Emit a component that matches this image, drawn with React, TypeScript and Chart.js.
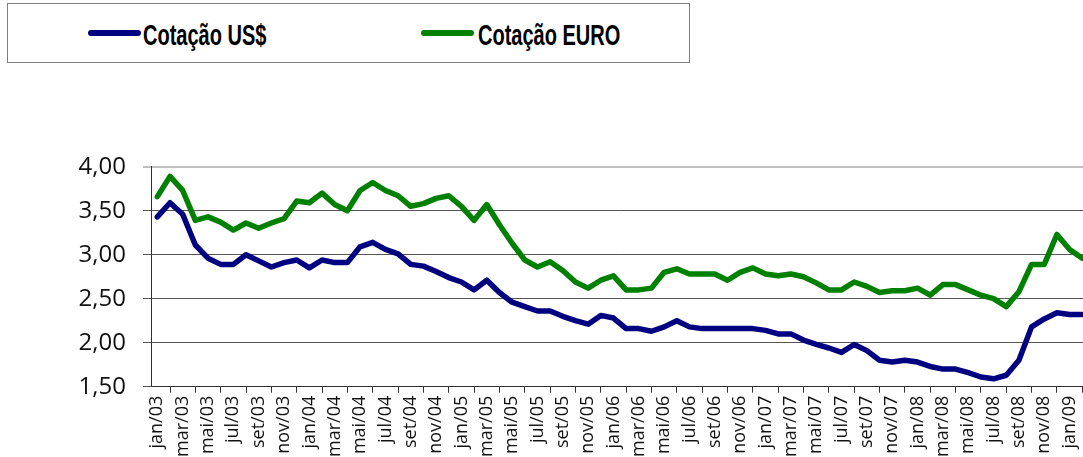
import React, { useEffect, useRef } from "react";
import { Chart, registerables } from "chart.js";

Chart.register(...registerables);

const months = ["jan", "fev", "mar", "abr", "mai", "jun", "jul", "ago", "set", "out", "nov", "dez"];
const years = ["03", "04", "05", "06", "07", "08", "09"];
const categories: string[] = [];
for (const y of years) for (const m of months) categories.push(`${m}/${y}`);
const labels = categories.slice(0, 74); // jan/03 .. fev/09

const usdValues = [
  3.43, 3.59, 3.46, 3.11, 2.96, 2.89, 2.89, 3.0, 2.93, 2.86, 2.91, 2.94,
  2.85, 2.94, 2.91, 2.91, 3.09, 3.14, 3.06, 3.01, 2.89, 2.87, 2.81, 2.74,
  2.69, 2.6, 2.71, 2.57, 2.46, 2.41, 2.36, 2.36, 2.3, 2.25, 2.21, 2.31,
  2.28, 2.16, 2.16, 2.13, 2.18, 2.25, 2.18, 2.16, 2.16, 2.16, 2.16, 2.16,
  2.14, 2.1, 2.1, 2.03, 1.98, 1.94, 1.89, 1.98, 1.91, 1.8, 1.78, 1.8,
  1.78, 1.73, 1.7, 1.7, 1.66, 1.61, 1.59, 1.63, 1.8, 2.18, 2.27, 2.34,
  2.32, 2.32,
];

const euroValues = [
  3.66, 3.89, 3.73, 3.39, 3.43, 3.37, 3.28, 3.36, 3.3, 3.36, 3.41, 3.61,
  3.59, 3.7, 3.57, 3.5, 3.73, 3.82, 3.73, 3.67, 3.55, 3.58, 3.64, 3.67,
  3.55, 3.39, 3.57, 3.34, 3.13, 2.94, 2.86, 2.92, 2.82, 2.69, 2.62, 2.71,
  2.76, 2.6, 2.6, 2.62, 2.8, 2.84, 2.78, 2.78, 2.78, 2.71, 2.8, 2.85,
  2.78, 2.76, 2.78, 2.75, 2.68, 2.6, 2.6, 2.69, 2.64, 2.57, 2.59, 2.59,
  2.62, 2.54, 2.66, 2.66, 2.6, 2.54, 2.5, 2.41, 2.58, 2.89, 2.89, 3.23,
  3.06, 2.96,
];

const seriesNames = ["Cotação US$", "Cotação EURO"];
const seriesColors = ["#000080", "#008000"];
const yTicks = [1.5, 2.0, 2.5, 3.0, 3.5, 4.0];

const CANVAS_W = 1100;
const CANVAS_H = 457;

export default function App() {
  const canvasRef = useRef<HTMLCanvasElement | null>(null);

  useEffect(() => {
    const canvas = canvasRef.current;
    if (!canvas) return;
    const chart = new Chart(canvas, {
      type: "line",
      data: {
        labels,
        datasets: [
          {
            label: seriesNames[0],
            data: usdValues,
            borderColor: seriesColors[0],
            backgroundColor: seriesColors[0],
            borderWidth: 5.5,
            pointRadius: 0,
            tension: 0,
            borderJoinStyle: "round",
            borderCapStyle: "round",
          },
          {
            label: seriesNames[1],
            data: euroValues,
            borderColor: seriesColors[1],
            backgroundColor: seriesColors[1],
            borderWidth: 5.5,
            pointRadius: 0,
            tension: 0,
            borderJoinStyle: "round",
            borderCapStyle: "round",
          },
        ],
      },
      options: {
        animation: false,
        responsive: false,
        devicePixelRatio: 1,
        layout: { padding: { top: 166.7, right: CANVAS_W - 1088.6, left: 0, bottom: 0 } },
        plugins: {
          legend: { display: false },
          tooltip: { enabled: false },
        },
        scales: {
          x: {
            type: "category",
            offset: true,
            grid: {
              offset: true,
              drawOnChartArea: false,
              drawTicks: true,
              tickLength: 6,
              color: "#333333",
            },
            border: { display: true, color: "#333333" },
            ticks: {
              autoSkip: false,
              minRotation: 90,
              maxRotation: 90,
              padding: 3,
              color: "#111111",
              font: { family: "'Open Sans'", size: 18 },
              callback: (_v: any, idx: number) => (idx % 2 === 0 ? labels[idx] : null),
            },
            afterFit: (scale: any) => {
              scale.height = CANVAS_H - 386.7;
            },
          },
          y: {
            min: yTicks[0],
            max: yTicks[yTicks.length - 1],
            afterBuildTicks: (scale: any) => {
              scale.ticks = yTicks.map((v) => ({ value: v }));
            },
            grid: {
              drawTicks: true,
              tickLength: 8,
              color: (ctx: any) => (ctx.tick && ctx.tick.value === 4 ? "#c0c0c0" : "#555555"),
              lineWidth: (ctx: any) => (ctx.tick && ctx.tick.value === 4 ? 2 : 1),
            },
            border: { display: true, color: "#333333" },
            ticks: {
              padding: 17,
              color: "#111111",
              font: { family: "'Open Sans'", size: 24 },
              callback: (v: any) => Number(v).toFixed(2).replace(".", ","),
            },
            afterFit: (scale: any) => {
              scale.width = 151;
            },
          },
        },
      },
    });
    return () => chart.destroy();
  }, []);

  const legendText: React.CSSProperties = {
    position: "absolute",
    top: 19,
    fontFamily: "'Liberation Sans', Arial, sans-serif",
    fontWeight: "bold",
    fontSize: 29,
    lineHeight: "32px",
    color: "#000000",
    whiteSpace: "nowrap",
    transform: "scaleX(0.69)",
    transformOrigin: "left center",
  };

  return (
    <div
      style={{
        position: "fixed",
        left: 0,
        top: 0,
        width: 1083,
        height: 457,
        overflow: "hidden",
        background: "#ffffff",
      }}
    >
      <div style={{ position: "absolute", left: 0, top: 0, width: CANVAS_W, height: CANVAS_H }}>
        <canvas ref={canvasRef} width={CANVAS_W} height={CANVAS_H} style={{ display: "block" }} />
      </div>
      <div
        style={{
          position: "absolute",
          left: 7,
          top: 3,
          width: 681,
          height: 58,
          border: "1px solid #808080",
          background: "#ffffff",
        }}
      />
      <div
        style={{
          position: "absolute",
          left: 88,
          top: 30,
          width: 53,
          height: 6,
          borderRadius: 3,
          background: seriesColors[0],
        }}
      />
      <div style={{ ...legendText, left: 143 }}>{seriesNames[0]}</div>
      <div
        style={{
          position: "absolute",
          left: 421,
          top: 30,
          width: 53,
          height: 6,
          borderRadius: 3,
          background: seriesColors[1],
        }}
      />
      <div style={{ ...legendText, left: 478 }}>{seriesNames[1]}</div>
    </div>
  );
}
